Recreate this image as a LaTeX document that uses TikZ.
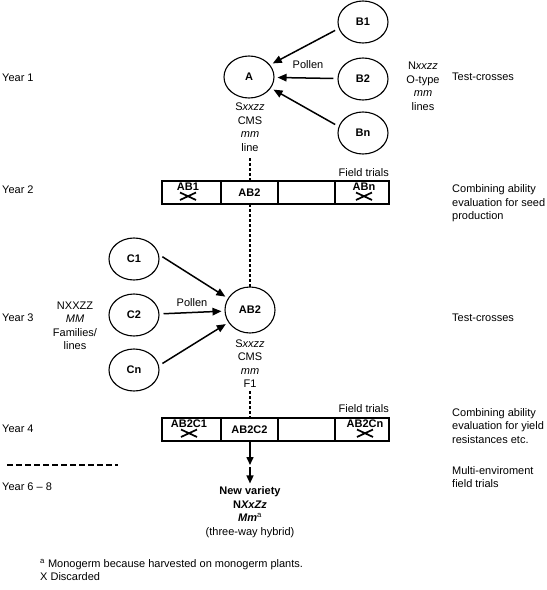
\documentclass[tikz,border=0pt]{standalone}
\usepackage{fontspec}
\setmainfont{Liberation Sans}
\usetikzlibrary{shapes.geometric,arrows.meta}
\begin{document}
\begin{tikzpicture}[x=1pt,y=-1pt,
  font=\fontsize{11}{13.5}\selectfont,
  plant/.style={ellipse,draw,line width=1.1pt,inner sep=0pt,minimum width=50pt,minimum height=42pt,font=\fontsize{11}{13}\selectfont\bfseries},
  arr/.style={line width=1.5pt,-{Triangle[length=9pt,width=7.5pt]},shorten <=4pt,shorten >=3pt},
  dashline/.style={line width=1.5pt,dash pattern=on 3pt off 2pt},
  longdash/.style={line width=1.5pt,dash pattern=on 6pt off 3pt},
  cell/.style={draw,line width=1.3pt,rectangle,inner sep=0pt,minimum height=23pt,font=\fontsize{11}{13}\selectfont\bfseries},
  txt/.style={align=center,inner sep=0pt},
  lbl/.style={anchor=west,align=left,inner sep=0pt},
  rlbl/.style={anchor=west,align=left,inner sep=0pt,font=\fontsize{11}{13.5}\selectfont},
  bold/.style={inner sep=0pt,font=\fontsize{11}{13}\selectfont\bfseries},
  cross/.style={line width=1.7pt}
]
\useasboundingbox (0,0) rectangle (547,590);

% Year labels
\node[lbl] (y1) at (2,78) {Year 1};
\node[lbl] (y2) at (2,190) {Year 2};
\node[lbl] (y3) at (2,318) {Year 3};
\node[lbl] (y4) at (2,429) {Year 4};
\node[lbl] (y6) at (2,487) {Year 6 -- 8};
\coordinate (dl1) at (7,465);
\coordinate (dl2) at (118,465);
\draw[longdash] (dl1) -- (dl2);

% Year 1
\node[plant] (A) at (249,77) {A};
\node[plant] (B1) at (363,22) {B1};
\node[plant] (B2) at (363,79) {B2};
\node[plant] (Bn) at (363,133) {Bn};
\draw[arr] (B1.195) -- (A.30);
\draw[arr] (B2) -- (A);
\draw[arr] (Bn.165) -- (A.333);
\node[txt] (pollen1) at (308,65) {Pollen};
\node[txt] (Atxt) at (250,127) {S\textit{xxzz}\\CMS\\\textit{mm}\\line};
\node[txt] (Btxt) at (423,86.5) {N\textit{xxzz}\\O-type\\\textit{mm}\\lines};
\node[rlbl] (tc1) at (452,77) {Test-crosses};

% Year 2 box
\node[cell,minimum width=59pt] (r1a) at (191.5,192.5) {};
\node[cell,minimum width=57pt] (r1b) at (249.5,192.5) {AB2};
\node[cell,minimum width=57pt] (r1c) at (306.5,192.5) {};
\node[cell,minimum width=54pt] (r1d) at (362,192.5) {};
\node[bold] (ab1) at (188,187) {AB1};
\draw[cross] (180,192.5) -- (196,200) (180,200) -- (196,192.5);
\node[bold] (abn) at (364,187) {ABn};
\draw[cross] (356,192.5) -- (372,200) (356,200) -- (372,192.5);
\node[inner sep=0pt,anchor=east] (ft1) at (389,173) {Field trials};
\node[rlbl] (ca1) at (452,203.5) {Combining ability\\evaluation for seed\\production};
\coordinate (Abot) at (250,158);
\draw[dashline] (Abot) -- (r1b.north -| Abot);
\coordinate (r1bot) at (250,204);
\draw[dashline] (r1bot) -- (r1bot |- 0,287);

% Year 3
\node[plant,minimum height=46pt] (AB2) at (250,310) {AB2};
\node[plant] (C1) at (134,259) {C1};
\node[plant] (C2) at (134,315) {C2};
\node[plant] (Cn) at (134,370) {Cn};
\draw[arr] (C1.10) -- (AB2.152);
\draw[arr] (C2) -- (AB2);
\draw[arr] (Cn.10) -- (AB2.210);
\node[txt] (pollen2) at (192,303) {Pollen};
\node[txt] (Ctxt) at (75,326) {NXXZZ\\\textit{MM}\\Families/\\lines};
\node[txt] (ABtxt) at (250,363.5) {S\textit{xxzz}\\CMS\\\textit{mm}\\F1};
\node[rlbl] (tc2) at (452,318) {Test-crosses};

% Year 4 box
\node[cell,minimum width=59pt] (r2a) at (191.5,429.5) {};
\node[cell,minimum width=57pt] (r2b) at (249.5,429.5) {AB2C2};
\node[cell,minimum width=57pt] (r2c) at (306.5,429.5) {};
\node[cell,minimum width=54pt] (r2d) at (362,429.5) {};
\node[bold] (ab2c1) at (189,424) {AB2C1};
\draw[cross] (181,429.5) -- (197,437) (181,437) -- (197,429.5);
\node[bold] (ab2cn) at (365,424) {AB2Cn};
\draw[cross] (357,429.5) -- (373,437) (357,437) -- (373,429.5);
\node[inner sep=0pt,anchor=east] (ft2) at (389,409) {Field trials};
\node[rlbl] (ca2) at (452,426) {Combining ability\\evaluation for yield\\resistances etc.};
\node[rlbl] (me) at (452,477) {Multi-enviroment\\field trials};
\coordinate (F1bot) at (250,391);
\draw[dashline] (F1bot) -- (r2b.north -| F1bot);

% Result
\node[txt] (nv) at (250,512) {\textbf{New variety}\\\textbf{N\textit{XxZz}}\\\textbf{\textit{Mm}}\textsuperscript{a}\\(three-way hybrid)};
\coordinate (mid) at (250,465);
\coordinate (r2bot) at (250,441);
\draw[line width=1.5pt,-{Triangle[length=8pt,width=7pt]}] (r2bot) -- (mid);
\draw[line width=1.5pt,-{Triangle[length=8pt,width=7pt]},shorten <=2pt,shorten >=3pt] (mid) -- (nv.north);

% Footnotes
\node[lbl] (fn) at (40,570) {\textsuperscript{a} Monogerm because harvested on monogerm plants.\\X Discarded};
\end{tikzpicture}
\end{document}
